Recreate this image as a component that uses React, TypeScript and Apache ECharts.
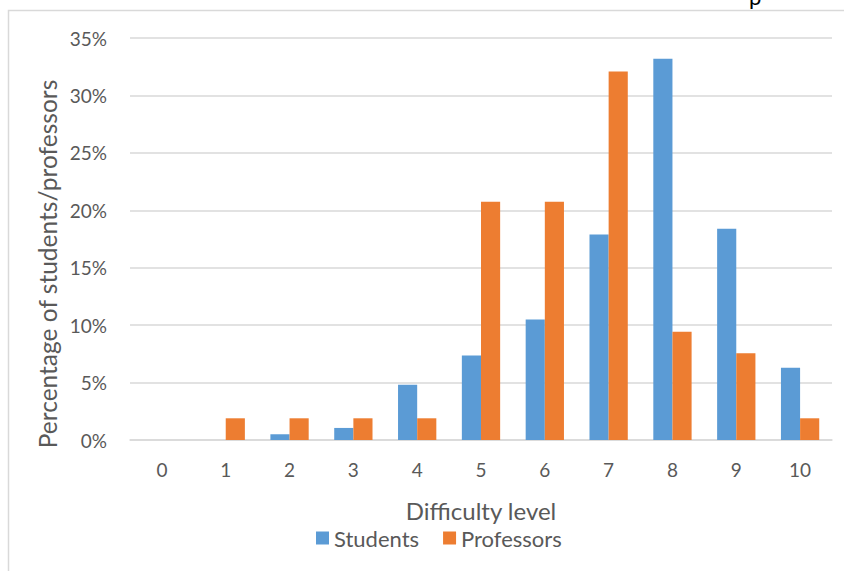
import React, { useEffect, useRef } from "react";
import * as echarts from "echarts";

const categories = ["0", "1", "2", "3", "4", "5", "6", "7", "8", "9", "10"];
const students = [0, 0, 0.5, 1.05, 4.8, 7.35, 10.5, 17.9, 33.2, 18.4, 6.3];
const professors = [0, 1.89, 1.89, 1.89, 1.89, 20.75, 20.75, 32.08, 9.43, 7.55, 1.89];
const yTicks = { min: 0, max: 35, interval: 5 };
const seriesNames = ["Students", "Professors"];
const xName = "Difficulty level";
const yName = "Percentage of students/professors";

const FONT = "Lato, 'Noto Sans', sans-serif";

export default function App() {
  const ref = useRef<HTMLDivElement>(null);
  useEffect(() => {
    const chart = echarts.init(ref.current!, null, { renderer: "svg" });
    chart.setOption({
      animation: false,
      textStyle: { fontFamily: FONT },
      grid: { left: 130, right: 12, top: 38, bottom: 131, containLabel: false },
      graphic: [
        {
          type: "rect",
          shape: { x: 8.5, y: 10.5, width: 900, height: 700 },
          style: { fill: "none", stroke: "#d9d9d9", lineWidth: 1.5 },
          silent: true,
        },
        {
          type: "text",
          x: 749,
          y: -15,
          style: { text: "p", fill: "#000", font: `22px ${FONT}` },
          silent: true,
        },
        {
          type: "text",
          x: 47,
          y: 264,
          rotation: Math.PI / 2,
          style: {
            text: yName,
            fill: "#595959",
            font: `24.5px ${FONT}`,
            align: "center",
            verticalAlign: "middle",
          },
          silent: true,
        },
      ],
      legend: {
        data: seriesNames,
        bottom: 17,
        left: 311,
        itemWidth: 13,
        itemHeight: 13,
        itemGap: 24,
        icon: "rect",
        textStyle: { fontSize: 22, color: "#595959", fontFamily: FONT },
      },
      xAxis: {
        type: "category",
        data: categories,
        name: xName,
        nameLocation: "middle",
        nameGap: 58,
        nameTextStyle: { fontSize: 24, color: "#595959", fontFamily: FONT },
        axisLine: { lineStyle: { color: "#d9d9d9", width: 1.5 } },
        axisTick: { show: false },
        axisLabel: { fontSize: 19, color: "#595959", margin: 20, fontFamily: FONT },
      },
      yAxis: {
        type: "value",
        min: yTicks.min,
        max: yTicks.max,
        interval: yTicks.interval,
        axisLine: { show: false },
        axisTick: { show: false },
        axisLabel: {
          fontSize: 19,
          color: "#595959",
          margin: 23,
          formatter: (v: number) => `${v}%`,
          fontFamily: FONT,
        },
        splitLine: { lineStyle: { color: "#d9d9d9", width: 1.5 } },
      },
      series: [
        {
          name: seriesNames[0],
          type: "bar",
          data: students,
          itemStyle: { color: "#5B9BD5" },
          barGap: "0%",
          barCategoryGap: "40%",
        },
        {
          name: seriesNames[1],
          type: "bar",
          data: professors,
          itemStyle: { color: "#ED7D31" },
          barGap: "0%",
          barCategoryGap: "40%",
        },
      ],
    });
    return () => chart.dispose();
  }, []);
  return (
    <div
      ref={ref}
      style={{ position: "absolute", left: 0, top: 0, width: 844, height: 571, background: "#fff" }}
    />
  );
}
